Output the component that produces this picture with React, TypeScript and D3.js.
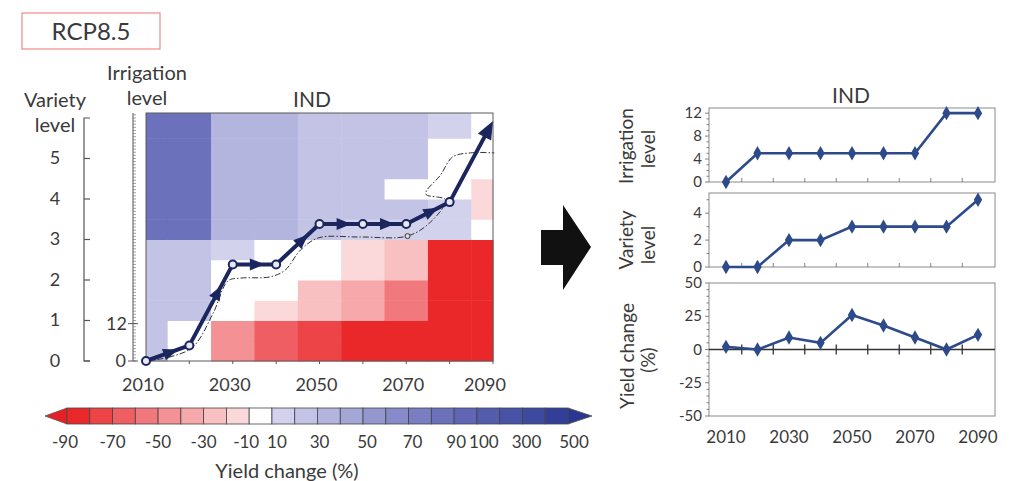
import React from 'react';
import * as d3 from 'd3';

// ---------- DATA ----------
const years = [2010, 2020, 2030, 2040, 2050, 2060, 2070, 2080, 2090];
const irrigationLevel = [0, 5, 5, 5, 5, 5, 5, 12, 12];
const varietyLevel = [0, 0, 2, 2, 3, 3, 3, 3, 5];
const yieldChange = [2, 0, 9, 5, 26, 18, 9, 0, 11];

const IRR_STEPS = 13; // irrigation levels 0..12 inside each variety level
const varietyTicks = [0, 1, 2, 3, 4, 5];
const yearTicks = [2010, 2030, 2050, 2070, 2090];
const midYearTicks = [2015, 2025, 2035, 2045, 2055, 2065, 2075, 2085];

// heat map: time bins and bands (per variety level: low irrigation half, high irrigation half), bottom -> top
const heatBinEdges = [2010, 2015, 2025, 2035, 2045, 2055, 2065, 2075, 2085, 2090];
const heatValues = [
  [25, 25, 25, 28, 28, 28, 82, 82, 85, 85, 85, 85],
  [0, 0, 22, 25, 25, 25, 82, 82, 82, 82, 82, 82],
  [-45, -45, 0, 0, 0, 15, 35, 35, 35, 38, 38, 38],
  [-65, -65, -15, 0, 0, 0, 30, 30, 30, 32, 32, 32],
  [-75, -75, -25, -25, 0, 0, 22, 28, 28, 28, 28, 28],
  [-85, -85, -35, -35, -20, -20, 18, 25, 25, 25, 25, 25],
  [-85, -85, -55, -55, -25, -25, 15, 20, 0, 22, 22, 22],
  [-88, -88, -88, -88, -88, -88, 15, 15, 0, 0, 0, 18],
  [-88, -88, -88, -88, -88, -88, 0, -15, -20, 0, 0, 0],
];

// dash-dot boundary line (year, combined level row)
const boundaryYears = [2010, 2015.5, 2020.8, 2025.5, 2028.9, 2031.7, 2038.6, 2042.1, 2045.6, 2049.7, 2059.4, 2070.3, 2075.6, 2079.1, 2074.5, 2077.9, 2080.7, 2084.8, 2090.3];
const boundaryRows = [0, 1.3, 4.5, 15.4, 25.7, 26.6, 27.0, 29.2, 35.6, 39.5, 39.8, 40.1, 44.6, 51.7, 53.6, 59.7, 65.5, 66.8, 66.8];
const boundaryMarker = [2070.3, 40.1];

// colour bar
const colorBreaks = [-90, -80, -70, -60, -50, -40, -30, -20, -10, 10, 20, 30, 40, 50, 60, 70, 80, 90, 100, 200, 300, 400, 500];
const colorLabels = [-90, -70, -50, -30, -10, 10, 30, 50, 70, 90, 100, 300, 500];
const colorSwatches = [
  'rgb(234,40,42)', 'rgb(237,68,72)', 'rgb(239,94,98)', 'rgb(241,120,124)', 'rgb(244,145,148)',
  'rgb(246,168,170)', 'rgb(249,192,194)', 'rgb(251,216,217)', 'rgb(255,255,255)',
  'rgb(210,210,236)', 'rgb(195,196,229)', 'rgb(180,181,222)', 'rgb(164,166,214)', 'rgb(149,151,207)',
  'rgb(135,138,200)', 'rgb(121,125,194)', 'rgb(108,113,188)', 'rgb(96,102,181)', 'rgb(84,92,174)',
  'rgb(72,82,167)', 'rgb(61,72,160)', 'rgb(51,62,152)',
];
const underColor = 'rgb(230,32,36)';
const overColor = 'rgb(42,54,148)';

const FONT = "Lato, 'Open Sans', sans-serif";
const TXT = '#3a3a3a';
const NAVY = '#1b265e';
const LINE_BLUE = '#2d4a8a';

function arrowHead(tx: number, ty: number, ang: number, L: number, Wd: number) {
  const bx = tx - L * Math.cos(ang), by = ty - L * Math.sin(ang);
  const px = -Math.sin(ang) * Wd / 2, py = Math.cos(ang) * Wd / 2;
  return `${tx},${ty} ${bx + px},${by + py} ${bx - px},${by - py}`;
}

export default function App() {
  // ---------- left heat map ----------
  const xH = d3.scaleLinear().domain([2010, 2090]).range([146, 493]);
  const yH = d3.scaleLinear().domain([0, 79.6]).range([361, 113]);
  const color = d3.scaleThreshold<number, string>().domain(colorBreaks.slice(1, -1)).range(colorSwatches);
  const rowOf = (i: number) => varietyLevel[i] * IRR_STEPS + irrigationLevel[i];

  const cells: { x0: number; x1: number; y0: number; y1: number; c: string }[] = [];
  heatValues.forEach((col, ci) => {
    col.forEach((v, b) => {
      const lvl = Math.floor(b / 2);
      const lo = lvl * IRR_STEPS + (b % 2 ? 6.5 : 0);
      const hi = b === col.length - 1 ? 79.6 : lvl * IRR_STEPS + (b % 2 ? 13 : 6.5);
      cells.push({ x0: xH(heatBinEdges[ci]), x1: xH(heatBinEdges[ci + 1]), y0: yH(hi), y1: yH(lo), c: color(v) });
    });
  });

  const pts = years.map((yr, i) => [xH(yr), yH(rowOf(i))] as [number, number]);
  const lastAng = Math.atan2(pts[8][1] - pts[7][1], pts[8][0] - pts[7][0]);
  const endBase: [number, number] = [pts[8][0] - 12 * Math.cos(lastAng), pts[8][1] - 12 * Math.sin(lastAng)];
  const pathLine = d3.line()([...pts.slice(0, 8), endBase]) as string;

  const boundaryPath = d3.line<number>()
    .x((_, i) => xH(boundaryYears[i]))
    .y((_, i) => yH(boundaryRows[i]))
    .curve(d3.curveCatmullRom.alpha(0.5))(boundaryYears) as string;

  const irrTicks = d3.range(0, 80);

  // ---------- colour bar ----------
  const cb = d3.scalePoint<number>().domain(colorBreaks).range([67, 568]);
  const cbTop = 408, cbBot = 424, cbMid = 416;
  const labelShift: Record<number, number> = { [-90]: -2, [-10]: -3, 10: 5, 30: 2, 50: 4, 70: 4, 90: 2, 100: 7, 300: 4, 500: 6 };

  // ---------- right panels ----------
  const xR = d3.scaleLinear().domain([2010, 2090]).range([726, 978]);
  const frameL = 709, frameR = 995;
  const p1 = { top: 108, bot: 182 }, p2 = { top: 193, bot: 267 }, p3 = { top: 283, bot: 416 };
  const y1 = d3.scaleLinear().domain([0, 12.9]).range([p1.bot, p1.top]);
  const y2 = d3.scaleLinear().domain([0, 5.5]).range([p2.bot, p2.top]);
  const y3 = d3.scaleLinear().domain([-50, 50]).range([p3.bot, p3.top]);
  const diamond = d3.symbol(d3.symbolDiamond, 60)() as string;

  const series = [
    { y: y1, vals: irrigationLevel, major: [0, 4, 8, 12], minor: d3.range(0, 13), p: p1 },
    { y: y2, vals: varietyLevel, major: [0, 2, 4], minor: d3.range(0, 6), p: p2 },
    { y: y3, vals: yieldChange, major: [-50, -25, 0, 25, 50], minor: d3.range(-50, 51, 5), p: p3 },
  ];

  return (
    <svg width={1010} height={481} style={{ position: 'absolute', left: 0, top: 0, background: '#fff' }} fontFamily={FONT}>
      <rect x={0} y={0} width={1010} height={481} fill="#fff" />
      {/* RCP box */}
      <rect x={22} y={13} width={138} height={36} fill="#fff" stroke="#ef8a8a" strokeWidth={1.2} />
      <text x={91} y={40} textAnchor="middle" fontSize={24} fill={TXT}>RCP8.5</text>

      {/* axis titles */}
      <text x={55} y={107} textAnchor="middle" fontSize={20} fill={TXT}>Variety</text>
      <text x={55} y={132} textAnchor="middle" fontSize={20} fill={TXT}>level</text>
      <text x={147} y={80} textAnchor="middle" fontSize={20} fill={TXT}>Irrigation</text>
      <text x={147} y={105} textAnchor="middle" fontSize={20} fill={TXT}>level</text>
      <text x={312} y={107} textAnchor="middle" fontSize={21} fill={TXT}>IND</text>

      {/* heat map */}
      {cells.map((c, i) => (
        <rect key={i} x={c.x0} y={c.y0} width={c.x1 - c.x0 + 0.5} height={c.y1 - c.y0 + 0.5} fill={c.c} />
      ))}
      <rect x={xH(2010)} y={yH(79.6)} width={xH(2090) - xH(2010)} height={yH(0) - yH(79.6)} fill="none" stroke="#5a5a5a" strokeWidth={1} />
      {d3.range(2010, 2091, 10).map((yr) => (
        <line key={yr} x1={xH(yr)} x2={xH(yr)} y1={yH(0)} y2={yH(0) + 3} stroke="#5a5a5a" />
      ))}
      {yearTicks.map((yr) => (
        <text key={yr} x={xH(yr) - (yr === 2090 ? 8 : 3)} y={391} textAnchor="middle" fontSize={18} fill={TXT}>{yr}</text>
      ))}

      {/* variety axis */}
      <path d={`M90,${yH(78)}H84V${yH(0)}H90`} fill="none" stroke="#555" strokeWidth={1.2} />
      {varietyTicks.map((v) => (
        <g key={v}>
          <line x1={84} x2={90} y1={yH(v * IRR_STEPS)} y2={yH(v * IRR_STEPS)} stroke="#555" strokeWidth={1.2} />
          <text x={55} y={yH(v * IRR_STEPS) + 6} textAnchor="middle" fontSize={18} fill={TXT}>{v}</text>
        </g>
      ))}

      {/* irrigation axis */}
      <line x1={133} x2={133} y1={yH(0)} y2={yH(79.6)} stroke="#555" strokeWidth={1} />
      {irrTicks.map((r) => (
        <line key={r} x1={133} x2={136} y1={yH(r)} y2={yH(r)} stroke="#666" strokeWidth={0.6} />
      ))}
      <line x1={128} x2={138} y1={yH(12)} y2={yH(12)} stroke="#555" />
      <line x1={128} x2={138} y1={yH(0)} y2={yH(0)} stroke="#555" />
      <text x={127} y={yH(12) + 6} textAnchor="end" fontSize={18} fill={TXT}>12</text>
      <text x={126} y={yH(0) + 6} textAnchor="end" fontSize={18} fill={TXT}>0</text>

      {/* boundary dash-dot line */}
      <path d={boundaryPath} fill="none" stroke="#333" strokeWidth={1} strokeDasharray="6,2,1.5,2" />
      <circle cx={xH(boundaryMarker[0])} cy={yH(boundaryMarker[1])} r={2.5} fill="#ddd" stroke="#333" strokeWidth={1} />

      {/* adaptation path */}
      <path d={pathLine} fill="none" stroke={NAVY} strokeWidth={4} strokeLinejoin="round" />
      {pts.slice(0, 7).map((p, i) => {
        const q = pts[i + 1];
        const ang = Math.atan2(q[1] - p[1], q[0] - p[0]);
        const t = 0.74;
        return <polygon key={i} points={arrowHead(p[0] + t * (q[0] - p[0]), p[1] + t * (q[1] - p[1]), ang, 15, 12)} fill={NAVY} />;
      })}
      <polygon points={arrowHead(pts[8][0], pts[8][1], lastAng, 18, 15)} fill={NAVY} />
      {pts.slice(0, 8).map((p, i) => (
        <circle key={i} cx={p[0]} cy={p[1]} r={4} fill="#e8eaf3" stroke={NAVY} strokeWidth={2} />
      ))}

      {/* colour bar */}
      <polygon points={`${cb(-90)},${cbTop} ${cb(-90)},${cbBot} 45,${cbMid}`} fill={underColor} stroke="#555" strokeWidth={0.8} />
      <polygon points={`${cb(500)},${cbTop} ${cb(500)},${cbBot} 592,${cbMid}`} fill={overColor} stroke="#555" strokeWidth={0.8} />
      {colorSwatches.map((c, i) => (
        <rect key={i} x={cb(colorBreaks[i])} y={cbTop} width={(cb(colorBreaks[i + 1]) as number) - (cb(colorBreaks[i]) as number)} height={cbBot - cbTop} fill={c} stroke="#444" strokeWidth={0.8} />
      ))}
      {colorLabels.map((v) => (
        <text key={v} x={(cb(v) as number) + (labelShift[v] ?? 0)} y={448} textAnchor="middle" fontSize={17} fill={TXT}>{v}</text>
      ))}
      <text x={287} y={478} textAnchor="middle" fontSize={20} fill={TXT}>Yield change (%)</text>

      {/* big arrow */}
      <polygon points="541,230 563,230 563,205 591,247 563,290 563,265 541,265" fill="#111" />

      {/* right panels */}
      <text x={851} y={103} textAnchor="middle" fontSize={21} fill={TXT}>IND</text>
      {series.map((s, si) => {
        const line = d3.line<number>().x((_, i) => xR(years[i])).y((v) => s.y(v))(s.vals) as string;
        return (
          <g key={si}>
            <rect x={frameL} y={s.p.top} width={frameR - frameL} height={s.p.bot - s.p.top} fill="#fff" stroke="#8a8a8a" strokeWidth={1} />
            {s.minor.map((v) => (
              <line key={'m' + v} x1={frameL - (s.major.includes(v) ? 4 : 2.5)} x2={frameL} y1={s.y(v)} y2={s.y(v)} stroke="#666" strokeWidth={0.8} />
            ))}
            {s.major.map((v) => (
              <text key={'t' + v} x={702} y={s.y(v) + 5} textAnchor="end" fontSize={15} fill={TXT}>{v}</text>
            ))}
            {si < 2 && midYearTicks.map((yr) => (
              <line key={yr} x1={xR(yr)} x2={xR(yr)} y1={s.p.bot} y2={s.p.bot - 4} stroke="#666" strokeWidth={0.8} />
            ))}
            {si === 2 && (
              <g>
                <line x1={frameL} x2={frameR} y1={s.y(0)} y2={s.y(0)} stroke="#333" strokeWidth={1.3} />
                {midYearTicks.map((yr) => (
                  <line key={yr} x1={xR(yr)} x2={xR(yr)} y1={s.y(0) - 5} y2={s.y(0) + 5} stroke="#333" strokeWidth={1.3} />
                ))}
              </g>
            )}
            <path d={line} fill="none" stroke={LINE_BLUE} strokeWidth={2.6} />
            {s.vals.map((v, i) => (
              <path key={i} d={diamond} transform={`translate(${xR(years[i])},${s.y(v)})`} fill={LINE_BLUE} />
            ))}
          </g>
        );
      })}
      {yearTicks.map((yr) => (
        <text key={yr} x={xR(yr)} y={443} textAnchor="middle" fontSize={17} fill={TXT}>{yr}</text>
      ))}
      {/* rotated y titles */}
      <text transform="translate(633,146) rotate(-90)" textAnchor="middle" fontSize={19} fill={TXT}>Irrigation</text>
      <text transform="translate(655,149) rotate(-90)" textAnchor="middle" fontSize={19} fill={TXT}>level</text>
      <text transform="translate(633,240) rotate(-90)" textAnchor="middle" fontSize={19} fill={TXT}>Variety</text>
      <text transform="translate(655,245) rotate(-90)" textAnchor="middle" fontSize={19} fill={TXT}>level</text>
      <text transform="translate(634,356) rotate(-90)" textAnchor="middle" fontSize={19} fill={TXT}>Yield change</text>
      <text transform="translate(655,360) rotate(-90)" textAnchor="middle" fontSize={19} fill={TXT}>(%)</text>
    </svg>
  );
}
